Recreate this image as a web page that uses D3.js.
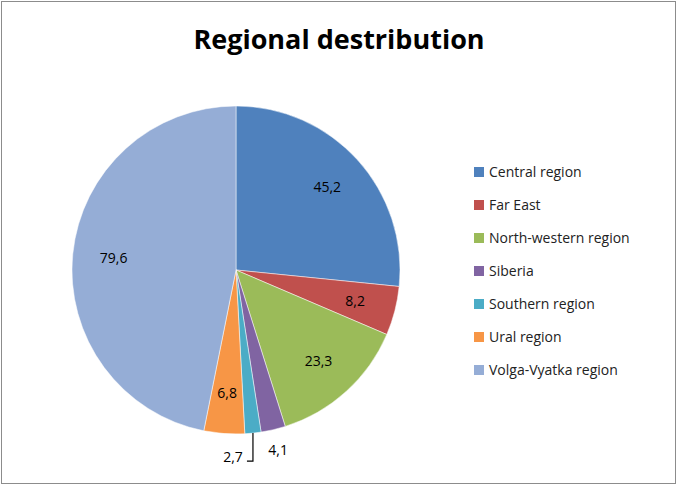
<!DOCTYPE html>
<html><head><meta charset="utf-8">
<script src="https://cdn.jsdelivr.net/npm/d3@7"></script>
<style>body{margin:0;background:#fff}text{font-family:"Open Sans","Liberation Sans",sans-serif}</style>
</head><body>
<script>
const categories = ["Central region","Far East","North-western region","Siberia","Southern region","Ural region","Volga-Vyatka region"];
const values = [45.2, 8.2, 23.3, 4.1, 2.7, 6.8, 79.6];
const colors = ["#4F81BD","#C0504D","#9BBB59","#8064A2","#4BACC6","#F79646","#95ADD6"];
const labels = ["45,2","8,2","23,3","4,1","2,7","6,8","79,6"];

const W = 678, H = 486, cx = 236, cy = 270, R = 164;
const svg = d3.select("body").append("svg").attr("width", W).attr("height", H);
svg.append("rect").attr("x",1.5).attr("y",1.5).attr("width",W-4).attr("height",H-4)
  .attr("fill","#fff").attr("stroke","#8c8c8c");
svg.append("text").attr("x",339).attr("y",49).attr("text-anchor","middle")
  .attr("font-size",27).attr("font-weight","bold").text("Regional destribution");

const pie = d3.pie().sort(null).value(d => d);
const arcs = pie(values);
const arc = d3.arc().innerRadius(0).outerRadius(R);
const g = svg.append("g").attr("transform",`translate(${cx},${cy})`);
g.selectAll("path").data(arcs).join("path").attr("d",arc)
  .attr("fill",(d,i)=>colors[i]).attr("stroke","#fff").attr("stroke-width",0.5);

const inner = d3.arc().innerRadius(R*0.75).outerRadius(R*0.75);
const outer = d3.arc().innerRadius(R*1.13).outerRadius(R*1.13);
arcs.forEach((d,i)=>{
  let [x,y] = (values[i] < 5 ? outer : inner).centroid(d);
  if (i === 4) {
    const m = (d.startAngle+d.endAngle)/2;
    const ex = Math.sin(m)*R, ey = -Math.cos(m)*R;
    g.append("path").attr("d",`M${ex},${ey}L${ex},${ey+28}L${ex-6},${ey+28}`)
      .attr("fill","none").attr("stroke","#000").attr("stroke-width",1.2);
    x = ex - 20; y = ey + 24;
  }
  g.append("text").attr("x",x).attr("y",y).attr("dy","0.35em").attr("text-anchor","middle")
    .attr("font-size",14).attr("fill","#000").text(labels[i]);
});

const y = d3.scalePoint().domain(categories).range([172,370]);
const leg = svg.append("g");
categories.forEach(c=>{
  leg.append("rect").attr("x",474).attr("y",y(c)-5).attr("width",10).attr("height",10).attr("fill",colors[categories.indexOf(c)]);
  leg.append("text").attr("x",489).attr("y",y(c)).attr("dy","0.35em").attr("font-size",14).attr("fill","#222").text(c);
});
</script>
</body></html>
